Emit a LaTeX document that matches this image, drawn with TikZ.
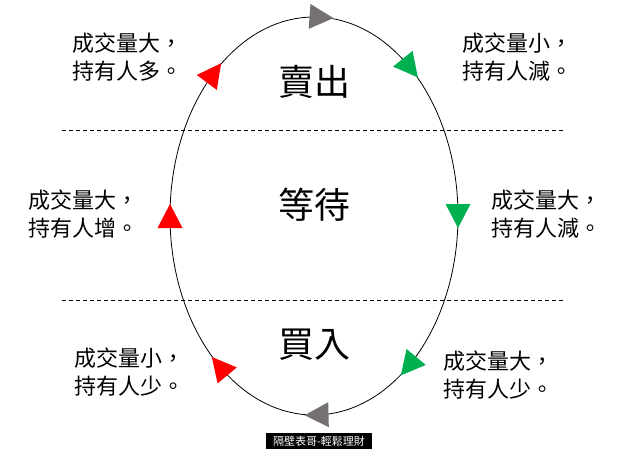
\documentclass[tikz,border=0pt]{standalone}
\usepackage{xcolor}
\usepackage{tikz}
\usepackage{fontspec}
\setmainfont{Noto Sans CJK TC}
\usetikzlibrary{positioning, calc}
\definecolor{sellred}{HTML}{FF0000}
\definecolor{buygreen}{HTML}{00B050}
\definecolor{turngray}{HTML}{767171}
\tikzstyle{label} = [align=center, font=\fontsize{22}{28}\selectfont, inner sep=0pt]
\tikzstyle{phase} = [font=\fontsize{36}{40}\selectfont, inner sep=0pt]
\tikzstyle{divider} = [dash pattern=on 4pt off 3pt, line width=0.7pt]

\begin{document}
\begin{tikzpicture}[x=1pt, y=-1pt]
    \useasboundingbox (0,0) rectangle (623,458);
    % market cycle
    \draw[line width=0.8pt] (314,216) ellipse [x radius=144, y radius=199];
    \foreach \a/\c in {87/turngray, 48/buygreen, 0/buygreen, -49/buygreen, 271/turngray, 229/sellred, 180/sellred, 134/sellred} {
        \pgfmathsetmacro{\rot}{atan2(-199*cos(\a), 144*sin(\a))}
        \fill[\c, shift={({314+144*cos(\a)},{216-199*sin(\a)})}, rotate=\rot] (12,0) -- (-12,-12.5) -- (-12,12.5) -- cycle;
    }
    \draw[divider] (62,130) -- (565,130);
    \draw[divider] (62,300) -- (565,300);

    \node[phase] (sell) at (314,82) {賣出};
    \node[phase] (wait) at (314,205) {等待};
    \node[phase] (buy) at (314,345) {買入};

    \node[label] (tl) at (127,57) {成交量大，\\持有人多。};
    \node[label] (tr) at (517,57) {成交量小，\\持有人減。};
    \node[label] (ml) at (83,214) {成交量大，\\持有人增。};
    \node[label] (mr) at (546,214) {成交量大，\\持有人減。};
    \node[label] (bl) at (129,372) {成交量小，\\持有人少。};
    \node[label] (br) at (498,375) {成交量大，\\持有人少。};

    \node[fill=black, text=white, font=\fontsize{11}{12}\selectfont, inner xsep=7pt, inner ysep=3pt] (credit) at (319,441) {隔壁表哥-輕鬆理財};
\end{tikzpicture}
\end{document}
